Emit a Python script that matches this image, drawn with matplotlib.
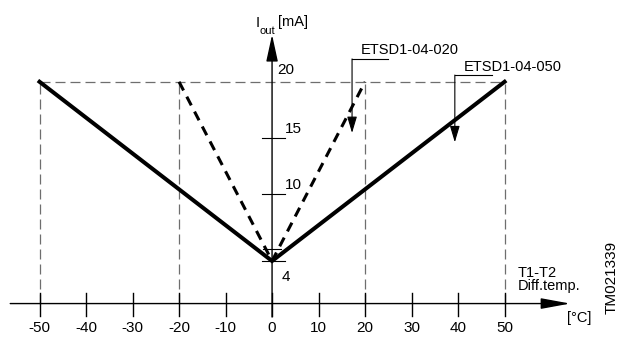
import matplotlib
matplotlib.use('Agg')
import matplotlib.pyplot as plt

plt.rcParams['font.family'] = ['Liberation Sans', 'DejaVu Sans']

# data
temp_ticks = [-50, -40, -30, -20, -10, 0, 10, 20, 30, 40, 50]
current_ticks = [4, 10, 15]
current_labels = ['4', '10', '15', '20']

# ETSD1-04-050 (range +-50 degC) and ETSD1-04-020 (range +-20 degC)
t_050 = [-50, 0, 50]
i_050 = [20, 4, 20]
t_020 = [-20, 0, 20]
i_020 = [20, 4, 20]

i_min = 4
i_max = 20

fig = plt.figure(figsize=(6.19, 3.44), dpi=100)
ax = fig.add_axes([0, 0, 1, 1])
ax.set_xlim(-58.5, 74.6)
ax.set_ylim(-3.41, 27.3)
ax.axis('off')

grey = '#6e6e6e'
x_axis_y = 0.2

# helper lines (grey dashed)
ax.plot([t_050[0], t_050[-1]], [i_max, i_max], color=grey, lw=0.9, dashes=(8, 4))
for t in [t_050[0], t_020[0], t_020[-1], t_050[-1]]:
    ax.plot([t, t], [x_axis_y, i_max], color=grey, lw=0.9, dashes=(8, 4))

# axes with arrows
ax.annotate('', xy=(64.1, x_axis_y), xytext=(-56.3, x_axis_y),
            arrowprops=dict(arrowstyle='-|>,head_length=1.8,head_width=0.33',
                            lw=1.0, color='k', shrinkA=0, shrinkB=0))
ax.annotate('', xy=(0, 24.2), xytext=(0, -1.0),
            arrowprops=dict(arrowstyle='-|>,head_length=1.65,head_width=0.36',
                            lw=1.0, color='k', shrinkA=0, shrinkB=0))

# x ticks
for t in temp_ticks:
    ax.plot([t, t], [-0.95, 1.15], color='k', lw=1.0)
    ax.text(t, -1.95, str(t), ha='center', va='center', fontsize=11)

# y ticks
for c in current_ticks:
    ax.plot([-2.2, 2.8], [c, c], color='k', lw=0.8)
ax.plot([-1.9, 1.9], [5.07, 5.07], color='k', lw=0.8)
ax.text(2.0, 2.6, current_labels[0], ha='left', va='center', fontsize=11)
ax.text(2.8, 10.8, current_labels[1], ha='left', va='center', fontsize=11)
ax.text(2.8, 15.8, current_labels[2], ha='left', va='center', fontsize=11)
ax.text(1.1, 21.05, current_labels[3], ha='left', va='center', fontsize=11)

# characteristics
ax.plot(t_050, i_050, color='k', lw=2.9, solid_joinstyle='miter')
ax.plot(t_020, i_020, color='k', lw=2.2, dashes=(3.2, 2.3))

# callouts
ax.plot([17.2, 24.9], [22.04, 22.04], color='k', lw=0.8)
ax.annotate('', xy=(17.2, 15.43), xytext=(17.2, 22.04),
            arrowprops=dict(arrowstyle='-|>,head_length=1.0,head_width=0.3',
                            lw=0.8, color='k', shrinkA=0, shrinkB=0))
ax.text(19.1, 22.5, 'ETSD1-04-020', ha='left', va='baseline', fontsize=10.5)

ax.plot([39.3, 47.3], [20.6, 20.6], color='k', lw=0.8)
ax.annotate('', xy=(39.3, 14.6), xytext=(39.3, 20.6),
            arrowprops=dict(arrowstyle='-|>,head_length=1.0,head_width=0.3',
                            lw=0.8, color='k', shrinkA=0, shrinkB=0))
ax.text(41.3, 20.96, 'ETSD1-04-050', ha='left', va='baseline', fontsize=10.5)

# axis titles
ax.text(-3.5, 24.9, 'I', ha='left', va='baseline', fontsize=10.5)
ax.text(-2.6, 24.3, 'out', ha='left', va='baseline', fontsize=8)
ax.text(1.3, 25.0, '[mA]', ha='left', va='baseline', fontsize=10.5)

ax.text(52.9, 2.57, 'T1-T2', ha='left', va='baseline', fontsize=10.5)
ax.text(52.9, 1.41, 'Diff.temp.', ha='left', va='baseline', fontsize=10.5)
ax.text(63.4, -1.45, '[°C]', ha='left', va='baseline', fontsize=10.5)

ax.text(73.0, 2.5, 'TM021339', rotation=90, ha='center', va='center', fontsize=11)

fig.savefig('out.png', dpi=100)
